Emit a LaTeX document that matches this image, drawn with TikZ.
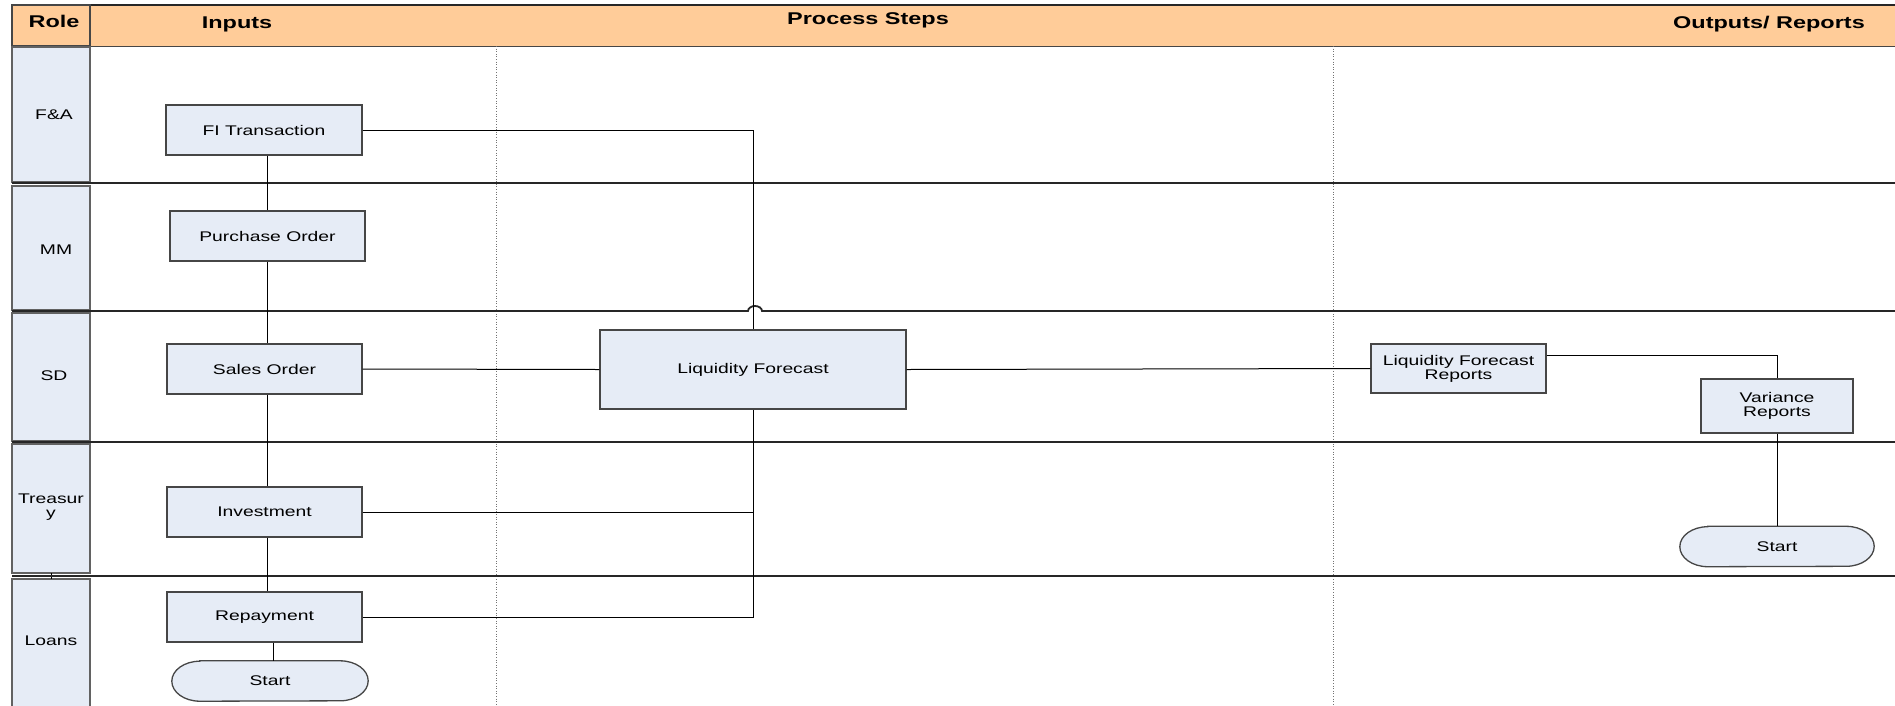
\documentclass[tikz,border=0pt]{standalone}
\usepackage{fontspec}
\setmainfont{Liberation Sans}[FakeStretch=1.38]
\usetikzlibrary{calc,backgrounds}
\definecolor{hdr}{RGB}{255,204,153}
\definecolor{cell}{RGB}{230,236,246}
\definecolor{edge}{RGB}{70,70,70}

\begin{document}
\begin{tikzpicture}[x=1pt,y=-1pt,
  every node/.style={font=\fontsize{14}{14}\selectfont, align=center, inner sep=0pt},
  proc/.style={draw=edge, fill=cell, line width=1.3pt, rectangle},
  lane/.style={line width=1.8pt, black!85},
  guide/.style={draw=black!55, line width=0.6pt, dotted},
  link/.style={line width=1pt, black},
  role/.style={draw=edge!85, fill=cell, line width=1.2pt},
  head/.style={font=\fontsize{17}{18}\selectfont\bfseries},
  stadium/.style={draw=edge, fill=cell, line width=1.3pt}]

\useasboundingbox (0,0) rectangle (1895,705);

% header band
\fill[hdr] (12,5) rectangle (1895,46);
\draw[edge, line width=1pt] (12,46) -- (1895,46);
\draw[lane] (12,5) -- (1895,5);
\draw[edge, line width=1.2pt] (12,5) rectangle (90,46);
\node[head] (hrole) at (54,21) {Role};
\node[head] (hin)   at (237,24) {Inputs};
\node[head] (hproc) at (868,20) {Process Steps};
\node[head] (hout)  at (1769,24) {Outputs/ Reports};

% column guides
\draw[guide] (496,46) -- (496,705);
\draw[guide] (1333,46) -- (1333,705);

% role cells
\draw[role] (12,47) rectangle (90,182);
\draw[role] (12,186) rectangle (90,310);
\draw[role] (12,313) rectangle (90,441);
\draw[role] (12,444) rectangle (90,573);
\draw[role] (12,579) rectangle (90,712);
\draw[link] (51,573) -- (51,579);
\node (rfa)  at (54,115) {F\&A};
\node (rmm)  at (56,250) {MM};
\node (rsd)  at (54,376) {SD};
\node (rtr)  at (51,507) {Treasur\\y};
\node (rln)  at (51,641) {Loans};

% lane dividers
\draw[lane] (12,183) -- (1895,183);
\draw[lane] (12,311) -- (748,311) arc[start angle=180, end angle=0, x radius=7pt, y radius=5pt] -- (1895,311);
\draw[lane] (12,442) -- (1895,442);
\draw[lane] (12,576) -- (1895,576);

% process boxes
\node[proc, minimum width=196pt, minimum height=50pt] (fi)  at (264,130)   {FI Transaction};
\node[proc, minimum width=195pt, minimum height=50pt] (po)  at (267.5,236) {Purchase Order};
\node[proc, minimum width=195pt, minimum height=50pt] (so)  at (264.5,369) {Sales Order};
\node[proc, minimum width=195pt, minimum height=50pt] (inv) at (264.5,512) {Investment};
\node[proc, minimum width=195pt, minimum height=50pt] (rep) at (264.5,617) {Repayment};
\node[proc, minimum width=306pt, minimum height=79pt] (lf)  at (753,369.5) {Liquidity Forecast};
\node[proc, minimum width=175pt, minimum height=49pt] (lfr) at (1458.5,368.5) {Liquidity Forecast\\Reports};
\node[proc, minimum width=152pt, minimum height=54pt] (vr)  at (1777,406) {Variance\\Reports};

% terminators
\node[minimum width=196pt, minimum height=40pt] (s1) at (270,681) {Start};
\node[minimum width=194pt, minimum height=40pt] (s2) at (1777,546.5) {Start};
\begin{scope}[on background layer]
  \foreach \s in {s1,s2}{
    \draw[stadium] ([xshift=28pt]\s.north west) -- ([xshift=-28pt]\s.north east)
      arc[start angle=90, end angle=-90, x radius=28pt, y radius=20pt]
      -- ([xshift=28pt]\s.south west)
      arc[start angle=270, end angle=90, x radius=28pt, y radius=20pt] -- cycle;
  }
\end{scope}

% connectors
\coordinate (col) at (267,0);
\coordinate (scol) at (273,0);
\draw[link] (fi.south -| col) -- (po.north -| col);
\draw[link] (po.south -| col) -- (so.north -| col);
\draw[link] (so.south -| col) -- (inv.north -| col);
\draw[link] (inv.south -| col) -- (rep.north -| col);
\draw[link] (rep.south -| scol) -- (s1.north -| scol);
\draw[link] (fi.east) -| (lf.north);
\draw[link] (so.east) -- (lf.west);
\draw[link] (inv.east) -- (inv.east -| lf.south);
\draw[link] (rep.east) -| (lf.south);
\draw[link] (lf.east) -- (lfr.west);
\draw[link] ($(lfr.north east)!0.25!(lfr.south east)$) -| (vr.north);
\draw[link] (vr) -- (s2);
\end{tikzpicture}
\end{document}
